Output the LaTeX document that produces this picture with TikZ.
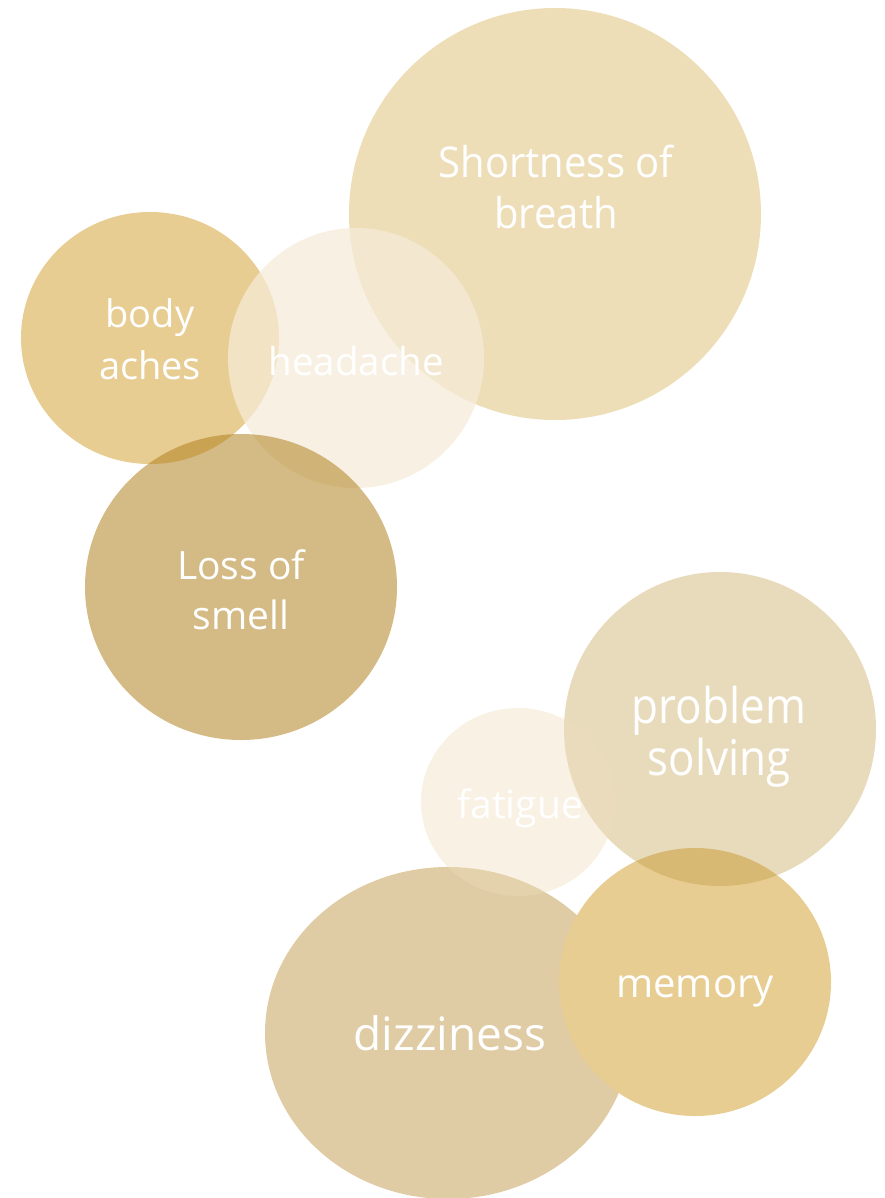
\documentclass[tikz,border=0pt]{standalone}
\usepackage{fontspec}
\setmainfont{Open Sans}
\definecolor{cShort}{RGB}{238,222,184}
\definecolor{cBody}{RGB}{232,205,147}
\definecolor{cHead}{RGB}{245,236,216}
\definecolor{cLoss}{RGB}{175,127,27}
\definecolor{cDizz}{RGB}{223,204,165}
\definecolor{cFat}{RGB}{237,220,187}
\definecolor{cMem}{RGB}{232,205,147}
\definecolor{cProb}{RGB}{185,146,52}
\tikzset{
  bubble/.style={draw=none},
  lbl/.style={text=white, anchor=base, inner sep=0pt, outer sep=0pt},
  fs/.style={font=\fontsize{#1pt}{#1pt}\selectfont}
}
\begin{document}
\begin{tikzpicture}[x=1pt,y=-1pt]
\useasboundingbox (0,0) rectangle (884,1198);
% upper group
\fill[cShort] (555,214) ellipse [x radius=206pt, y radius=206pt];
\fill[cBody] (150,338) ellipse [x radius=129pt, y radius=126pt];
\fill[cHead, fill opacity=0.72] (356,358) ellipse [x radius=128pt, y radius=130pt];
\fill[cLoss, fill opacity=0.54] (241,587) ellipse [x radius=156pt, y radius=153pt];
% lower group
\fill[cDizz] (448,1033) ellipse [x radius=183pt, y radius=166pt];
\fill[cMem] (695,982) ellipse [x radius=136pt, y radius=134pt];
\fill[cProb, fill opacity=0.33] (720,729) ellipse [x radius=156pt, y radius=157pt];
\fill[cFat, fill opacity=0.4] (518,802) ellipse [x radius=97pt, y radius=94pt];
% labels
\node[lbl, fs=40] (short1) at (556,178) {\scalebox{1}[1.06]{Shortness of}};
\node[lbl, fs=40] (short2) at (556,229) {\scalebox{1}[1.06]{breath}};
\node[lbl, fs=38] (body1) at (150,327) {body};
\node[lbl, fs=38] (body2) at (150,379) {aches};
\node[lbl, fs=38.5] (head) at (356,375) {headache};
\node[lbl, fs=39] (loss1) at (241,579) {Loss of};
\node[lbl, fs=39] (loss2) at (241,629) {smell};
\node[lbl, fs=44] (prob1) at (719,723) {\scalebox{1}[1.12]{problem}};
\node[lbl, fs=44] (prob2) at (719,775) {\scalebox{1}[1.12]{solving}};
\node[lbl, fs=39] (fat) at (520,818) {fatigue};
\node[lbl, fs=46] (dizz) at (450,1050) {dizziness};
\node[lbl, fs=40] (mem) at (695,997) {memory};
\end{tikzpicture}
\end{document}
